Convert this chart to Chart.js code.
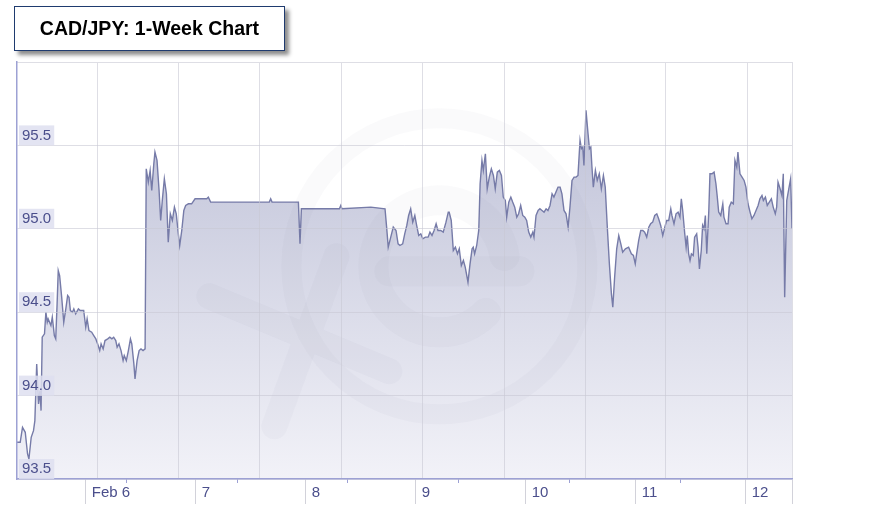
<!DOCTYPE html>
<html>
<head>
<meta charset="utf-8">
<title>CAD/JPY: 1-Week Chart</title>
<script src="https://cdn.jsdelivr.net/npm/chart.js@4.4.1/dist/chart.umd.min.js"></script>
<style>
html, body { margin: 0; padding: 0; background: #fff; }
#wrap { position: relative; width: 869px; height: 513px; overflow: hidden; }
#title {
    position: absolute; left: 14px; top: 6px; width: 269px; height: 43px;
    border: 1.5px solid #1f3b6f; background: #fff;
    box-shadow: 4px 4px 4px rgba(0,0,0,0.45);
    font: bold 19.5px "Liberation Sans", Arial, sans-serif;
    line-height: 43px; text-align: center; color: #000; z-index: 2;
}
canvas { position: absolute; left: 0; top: 0; }
</style>
</head>
<body>
<div id="wrap">
    <div id="title">CAD/JPY: 1-Week Chart</div>
    <canvas id="chart" width="869" height="513"></canvas>
</div>
<script>
// hours since Feb 6 00:00
const xMin = -15.0;
const xMax = 154.1;

const times = [
    -15.0, -14.3, -13.8, -13.2, -12.7, -12.4, -11.9, -11.4, -11.1, -10.7,
    -10.3, -10.0, -9.75, -9.5, -9.0, -8.7, -8.4, -8.2, -7.6, -7.3,
    -6.85, -6.55, -6.25, -6.0, -5.7, -5.25, -4.8, -4.35, -3.95, -3.65,
    -3.35, -2.9, -2.6, -2.2, -1.6, -1.2, -0.45, 0.0, 0.3, 0.7,
    1.3, 1.75, 2.2, 2.6, 3.05, 3.35, 3.8, 4.2, 4.8, 5.25,
    5.7, 6.1, 6.55, 6.85, 7.25, 7.7, 8.15, 8.4, 8.85, 9.3,
    9.75, 10.05, 10.5, 10.75, 11.2, 11.65, 12.05, 12.5, 12.95, 13.2,
    13.65, 14.05, 14.4, 14.85, 15.1, 15.55, 16.0, 16.35, 16.7, 17.15,
    17.6, 18.0, 18.45, 18.9, 19.35, 19.75, 20.2, 20.5, 20.95, 21.4,
    21.8, 22.4, 23.1, 23.85, 25.0, 26.4, 26.75, 27.25, 40.05, 40.35,
    40.65, 46.4, 46.75, 47.05, 55.35, 55.65, 55.9, 62.2, 65.3, 65.65,
    66.0, 66.55, 67.1, 67.7, 68.15, 68.55, 69.15, 69.6, 70.05, 70.45,
    70.9, 71.35, 71.8, 72.2, 72.65, 73.1, 73.55, 74.1, 74.7, 75.1,
    75.55, 76.0, 76.45, 76.85, 77.45, 78.0, 78.6, 79.1, 79.3, 79.75,
    80.2, 80.65, 81.1, 81.5, 81.95, 82.4, 82.8, 83.4, 83.85, 84.3,
    84.55, 84.85, 85.3, 85.75, 86.05, 86.45, 86.75, 87.2, 87.6, 88.05,
    88.5, 88.95, 89.35, 89.8, 90.25, 90.7, 91.1, 91.55, 91.85, 92.3,
    92.75, 93.15, 93.6, 94.05, 94.45, 94.9, 95.35, 95.8, 96.2, 96.65,
    97.1, 97.55, 97.8, 98.25, 98.7, 99.1, 99.55, 100.0, 100.45, 100.85,
    101.3, 101.75, 102.15, 102.6, 103.05, 103.5, 103.9, 104.35, 104.8, 105.25,
    105.65, 106.1, 106.55, 107.0, 107.4, 107.85, 108.15, 108.45, 108.7, 109.15,
    109.6, 109.9, 110.2, 110.45, 110.75, 111.2, 111.6, 112.05, 112.5, 112.95,
    113.35, 113.8, 114.25, 114.7, 115.0, 115.4, 115.85, 116.3, 116.75, 117.15,
    117.75, 118.45, 119.05, 119.5, 119.9, 120.2, 120.65, 121.1, 121.55, 121.95,
    122.4, 122.85, 123.25, 123.7, 124.15, 124.6, 125.0, 125.45, 125.9, 126.35,
    126.75, 127.2, 127.65, 127.9, 128.35, 128.8, 129.25, 129.65, 129.95, 130.25,
    130.7, 131.0, 131.25, 131.55, 131.85, 132.15, 132.55, 132.85, 133.3, 133.6,
    133.9, 134.3, 134.6, 134.9, 135.2, 135.5, 135.95, 136.2, 136.65, 137.1,
    137.5, 137.8, 138.1, 138.55, 139.0, 139.25, 139.7, 140.15, 140.4, 140.85,
    141.3, 141.65, 142.05, 142.3, 142.75, 143.2, 143.65, 144.05, 144.5, 144.95,
    145.35, 145.8, 146.25, 146.7, 147.1, 147.55, 147.85, 148.3, 148.7, 149.15,
    149.6, 150.0, 150.45, 150.75, 151.05, 151.5, 151.9, 152.2, 152.5, 152.95,
    153.4, 153.8, 154.1
];

const prices = [
    93.72, 93.72, 93.81, 93.78, 93.65, 93.62, 93.75, 93.79, 93.85, 94.19,
    93.95, 94.03, 93.91, 94.35, 94.37, 94.50, 94.44, 94.46, 94.42, 94.47,
    94.36, 94.34, 94.55, 94.75, 94.72, 94.59, 94.44, 94.52, 94.60, 94.59,
    94.51, 94.50, 94.52, 94.49, 94.52, 94.51, 94.51, 94.41, 94.46, 94.39,
    94.38, 94.36, 94.34, 94.31, 94.27, 94.31, 94.28, 94.33, 94.34, 94.35,
    94.34, 94.35, 94.33, 94.29, 94.31, 94.27, 94.21, 94.24, 94.21, 94.27,
    94.34, 94.31, 94.19, 94.10, 94.21, 94.27, 94.28, 94.27, 94.28, 95.36,
    95.28, 95.35, 95.23, 95.39, 95.46, 95.41, 95.23, 95.05, 95.17, 95.30,
    95.21, 94.92, 95.09, 95.05, 95.13, 95.09, 94.97, 94.90, 94.99, 95.11,
    95.14, 95.15, 95.15, 95.18, 95.18, 95.18, 95.19, 95.16, 95.16, 95.18,
    95.16, 95.16, 94.91, 95.12, 95.12, 95.14, 95.12, 95.13, 95.12, 95.01,
    94.89, 94.95, 95.01, 94.99, 94.91, 94.90, 94.91, 94.97, 95.02, 95.08,
    95.12, 95.04, 95.08, 95.02, 94.96, 94.97, 94.94, 94.95, 94.95, 94.98,
    94.96, 94.99, 95.03, 94.99, 94.99, 94.98, 95.04, 95.10, 95.10, 95.05,
    94.87, 94.89, 94.85, 94.88, 94.78, 94.81, 94.77, 94.68, 94.79, 94.88,
    94.89, 94.85, 94.90, 94.99, 95.27, 95.41, 95.35, 95.45, 95.24, 95.31,
    95.36, 95.32, 95.24, 95.34, 95.35, 95.32, 95.19, 95.17, 95.07, 95.16,
    95.19, 95.16, 95.13, 95.07, 95.09, 95.14, 95.08, 95.07, 95.05, 94.98,
    94.95, 94.98, 94.95, 95.08, 95.11, 95.12, 95.11, 95.10, 95.12, 95.11,
    95.14, 95.21, 95.19, 95.22, 95.25, 95.25, 95.21, 95.11, 95.09, 95.01,
    95.13, 95.29, 95.31, 95.31, 95.32, 95.53, 95.48, 95.49, 95.38, 95.71,
    95.57, 95.48, 95.49, 95.37, 95.25, 95.35, 95.29, 95.33, 95.24, 95.32,
    95.25, 95.01, 94.79, 94.61, 94.53, 94.71, 94.88, 94.96, 94.91, 94.86,
    94.88, 94.89, 94.85, 94.84, 94.79, 94.85, 94.93, 94.99, 94.99, 94.98,
    94.95, 95.01, 95.03, 95.04, 95.08, 95.09, 95.06, 95.02, 94.96, 95.01,
    95.05, 95.05, 95.12, 95.08, 95.03, 95.09, 95.10, 95.07, 95.18, 95.11,
    94.97, 94.89, 94.96, 94.85, 94.81, 94.85, 94.84, 94.95, 94.97, 94.89,
    94.76, 94.87, 95.02, 95.00, 95.08, 94.85, 95.11, 95.33, 95.33, 95.34,
    95.27, 95.19, 95.10, 95.08, 95.15, 95.07, 95.03, 95.03, 95.13, 95.16,
    95.15, 95.41, 95.37, 95.46, 95.33, 95.31, 95.29, 95.25, 95.15, 95.10,
    95.06, 95.08, 95.11, 95.14, 95.18, 95.20, 95.17, 95.19, 95.14, 95.16,
    95.18, 95.13, 95.09, 95.13, 95.28, 95.24, 95.20, 95.33, 94.59, 95.17,
    95.24, 95.30, 95.00
];

const dayHours = [0, 24, 48, 72, 96, 120, 144, xMax];
const dayLabels = ['Feb 6', '7', '8', '9', '10', '11', '12', ''];
const minorHours = [8.8, 33.2, 57.2, 81.4, 105.5, 129.7];
const gridHours = [2.5, 20.3, 38.0, 55.8, 73.4, 91.3, 109.0, 126.6, 144.4, xMax];
const yTicks = [93.5, 94.0, 94.5, 95.0, 95.5];

const fontFamily = '"Liberation Sans", Arial, sans-serif';
const labelColor = '#4b4f8c';
const axisColor = '#9da1d4';
const gridColor = 'rgba(200,200,212,0.6)';

function fillGradient(c) {
    const area = c.chart.chartArea;
    if (!area) return 'rgb(205,207,224)';
    const g = c.chart.ctx.createLinearGradient(0, area.top, 0, area.bottom);
    g.addColorStop(0, 'rgb(185,188,212)');
    g.addColorStop(1, 'rgb(242,242,248)');
    return g;
}

// faint "xe" logo behind the grid
const watermark = {
    id: 'watermark',
    afterDatasetsDraw(chart) {
        const {ctx, chartArea: a} = chart;
        const cx = a.left + (a.right - a.left) * 0.545;
        const cy = a.top + (a.bottom - a.top) * 0.49;
        ctx.save();
        ctx.beginPath();
        ctx.rect(a.left, a.top, a.right - a.left, a.bottom - a.top);
        ctx.clip();
        ctx.strokeStyle = 'rgba(110,110,140,0.03)';
        ctx.lineCap = 'round';
        ctx.lineWidth = 20;
        ctx.beginPath();
        ctx.arc(cx, cy, 148, 0, Math.PI * 2);
        ctx.stroke();
        ctx.lineWidth = 30;
        ctx.beginPath();
        ctx.arc(cx, cy, 66, 0.25 * Math.PI, 1.95 * Math.PI);
        ctx.stroke();
        ctx.beginPath();
        ctx.moveTo(cx - 50, cy + 5);
        ctx.lineTo(cx + 80, cy + 5);
        ctx.stroke();
        ctx.lineWidth = 26;
        ctx.beginPath();
        ctx.moveTo(cx - 103, cy - 10);
        ctx.lineTo(cx - 165, cy + 160);
        ctx.moveTo(cx - 230, cy + 30);
        ctx.lineTo(cx - 50, cy + 105);
        ctx.stroke();
        ctx.restore();
    }
};

const ctx = document.getElementById('chart');
new Chart(ctx, {
    type: 'line',
    data: {
        datasets: [{
            label: 'CAD/JPY',
            data: times.map((t, i) => ({x: t, y: prices[i]})),
            borderColor: '#767ba8',
            borderWidth: 1.4,
            pointRadius: 0,
            tension: 0,
            fill: 'start',
            backgroundColor: fillGradient
        }]
    },
    plugins: [watermark],
    options: {
        responsive: false,
        animation: false,
        layout: {padding: {left: 17, top: 62, right: 77, bottom: 9}},
        plugins: {legend: {display: false}, tooltip: {enabled: false}},
        scales: {
            x: {
                type: 'linear', position: 'bottom', min: xMin, max: xMax, weight: 1,
                afterBuildTicks: (s) => { s.ticks = dayHours.map(v => ({value: v})); },
                afterFit: (s) => { s.height = 25; },
                grid: {drawOnChartArea: false, tickLength: 25, color: '#d2d2da'},
                border: {color: axisColor, width: 1.5, z: 2},
                ticks: {
                    align: 'start', labelOffset: 6, padding: -20, maxRotation: 0, autoSkip: false,
                    color: labelColor, font: {family: fontFamily, size: 15},
                    callback: (v, i) => dayLabels[i]
                }
            },
            minor: {
                type: 'linear', position: 'bottom', min: xMin, max: xMax, weight: 0,
                afterBuildTicks: (s) => { s.ticks = minorHours.map(v => ({value: v})); },
                afterFit: (s) => { s.height = 0; },
                grid: {drawOnChartArea: false, tickLength: 4, color: axisColor},
                border: {display: false},
                ticks: {display: false}
            },
            grid: {
                type: 'linear', position: 'top', min: xMin, max: xMax,
                afterBuildTicks: (s) => { s.ticks = gridHours.map(v => ({value: v})); },
                afterFit: (s) => { s.height = 0; },
                grid: {color: gridColor, drawTicks: false, z: 1},
                border: {color: gridColor, z: 1},
                ticks: {display: false}
            },
            y: {
                position: 'left', min: 93.5, max: 96.0,
                afterBuildTicks: (s) => { s.ticks = yTicks.map(v => ({value: v})); },
                afterFit: (s) => { s.width = 0; },
                grid: {color: gridColor, drawTicks: false, z: 1},
                border: {color: axisColor, width: 1.5, z: 2},
                ticks: {
                    z: 3, mirror: true, padding: 5, labelOffset: -10,
                    color: labelColor, font: {family: fontFamily, size: 15},
                    showLabelBackdrop: true, backdropColor: 'rgba(222,223,240,0.85)',
                    backdropPadding: {top: 1, bottom: 1, left: 3, right: 3},
                    callback: (v) => v.toFixed(1)
                }
            }
        }
    }
});
</script>
</body>
</html>
